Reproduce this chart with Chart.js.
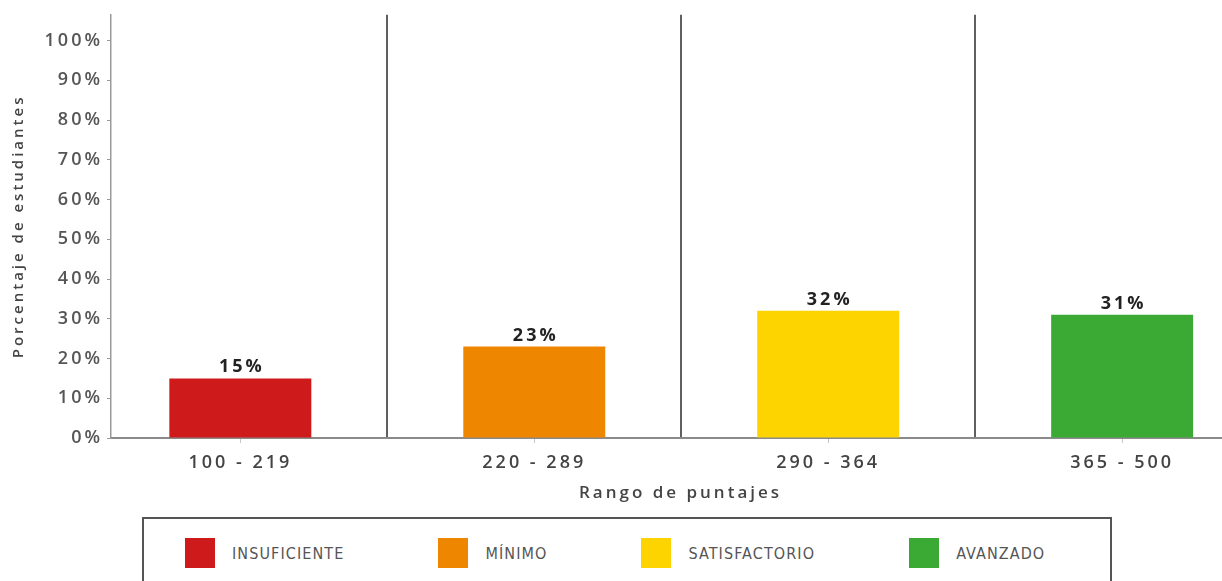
<!DOCTYPE html>
<html>
<head>
<meta charset="utf-8">
<script src="https://cdn.jsdelivr.net/npm/chart.js@4/dist/chart.umd.min.js"></script>
<style>
    html, body { margin: 0; padding: 0; background: #fff; width: 1222px; height: 581px; overflow: hidden; }
    #wrap { position: relative; width: 1250px; height: 581px; }
    #legend {
        position: absolute; left: 142px; top: 517px; width: 970px; height: 90px;
        box-sizing: border-box; border: 2px solid #555; padding: 19px 0 0 41px;
        display: flex; align-items: flex-start;
    }
    .item { display: flex; align-items: center; height: 30px; margin-right: 94px; }
    .swatch { width: 30px; height: 30px; margin-right: 17px; }
    .item span {
        font-family: "Liberation Sans Narrow", "DejaVu Sans Condensed", "Liberation Sans", sans-serif;
        font-size: 16px; color: #555; letter-spacing: 1.1px;
    }
</style>
</head>
<body>
<div id="wrap">
    <canvas id="chart" width="1250" height="512"></canvas>
    <div id="legend"></div>
</div>
<script>
// Data
const ranges = ['100 - 219', '220 - 289', '290 - 364', '365 - 500'];
const levels = ['INSUFICIENTE', 'MÍNIMO', 'SATISFACTORIO', 'AVANZADO'];
const percents = [15, 23, 32, 31];
const colors = ['#CE1A1B', '#EF8600', '#FDD300', '#3BAA35'];
const yTicks = [0, 10, 20, 30, 40, 50, 60, 70, 80, 90, 100];

const FONT = '"Open Sans", "DejaVu Sans", sans-serif';

// wide letter spacing like the original render
const spacing = {
    id: 'spacing',
    beforeDraw(chart) { chart.ctx.letterSpacing = '3px'; },
    afterDraw(chart) { chart.ctx.letterSpacing = '0px'; }
};

// percentage on top of every bar
const valueLabels = {
    id: 'valueLabels',
    afterDatasetsDraw(chart) {
        const ctx = chart.ctx;
        chart.getDatasetMeta(0).data.forEach((bar, i) => {
            ctx.save();
            ctx.font = 'bold 18px ' + FONT;
            ctx.fillStyle = '#222';
            ctx.textAlign = 'center';
            ctx.textBaseline = 'alphabetic';
            ctx.fillText(percents[i] + '%', bar.x + 1.5, bar.y - 6);
            ctx.restore();
        });
    }
};

const xMin = -0.44, xMax = 3.435;

new Chart(document.getElementById('chart').getContext('2d'), {
    type: 'bar',
    data: {
        datasets: [{
            data: percents.map((v, i) => ({ x: i, y: v })),
            backgroundColor: colors,
            categoryPercentage: 1,
            barPercentage: 0.483,
            xAxisID: 'x',
            yAxisID: 'y'
        }]
    },
    options: {
        responsive: false,
        animation: false,
        layout: { padding: { top: 13, left: 0, right: 0, bottom: 0 } },
        plugins: {
            legend: { display: false },
            tooltip: { enabled: false }
        },
        scales: {
            x: {
                type: 'linear',
                position: 'bottom',
                min: xMin,
                max: xMax,
                offset: false,
                afterBuildTicks: s => { s.ticks = ranges.map((_, i) => ({ value: i })); },
                afterFit: s => { s.height = 74; },
                ticks: {
                    callback: v => ranges[v],
                    autoSkip: false,
                    maxRotation: 0,
                    padding: 9,
                    color: '#444',
                    font: { family: FONT, size: 18, weight: '600' }
                },
                grid: { offset: false, drawOnChartArea: false, tickLength: 5, color: '#c8c8c8' },
                border: { color: '#8a8a8a', width: 2 },
                title: {
                    display: true,
                    text: 'Rango de puntajes',
                    color: '#444',
                    padding: { top: 0, bottom: 9 },
                    font: { family: FONT, size: 17, weight: '600' }
                }
            },
            sep: {
                type: 'linear',
                position: 'bottom',
                min: xMin,
                max: xMax,
                offset: false,
                afterBuildTicks: s => { s.ticks = ranges.slice(1).map((_, i) => ({ value: i + 0.5 })); },
                afterFit: s => { s.height = 0; },
                ticks: { display: false },
                grid: { offset: false, drawTicks: false, color: '#606060', lineWidth: 2 },
                border: { display: false }
            },
            y: {
                min: 0,
                max: 106.5,
                afterBuildTicks: s => { s.ticks = yTicks.map(v => ({ value: v })); },
                afterFit: s => { s.width = 111; },
                ticks: {
                    callback: v => v + '%',
                    padding: 4,
                    color: '#555',
                    font: { family: FONT, size: 18, weight: '600' }
                },
                grid: { drawOnChartArea: false, tickLength: 4, color: '#999' },
                border: { color: '#999', width: 1.5 },
                title: {
                    display: true,
                    text: 'Porcentaje de estudiantes',
                    color: '#444',
                    padding: { top: 10, bottom: 0 },
                    font: { family: FONT, size: 15, weight: '600' }
                }
            }
        }
    },
    plugins: [spacing, valueLabels]
});

// legend row under the chart
document.getElementById('legend').innerHTML = levels.map((name, i) => `
    <div class="item">
        <div class="swatch" style="background: ${colors[i]}"></div>
        <span>${name}</span>
    </div>
`).join('');
</script>
</body>
</html>
